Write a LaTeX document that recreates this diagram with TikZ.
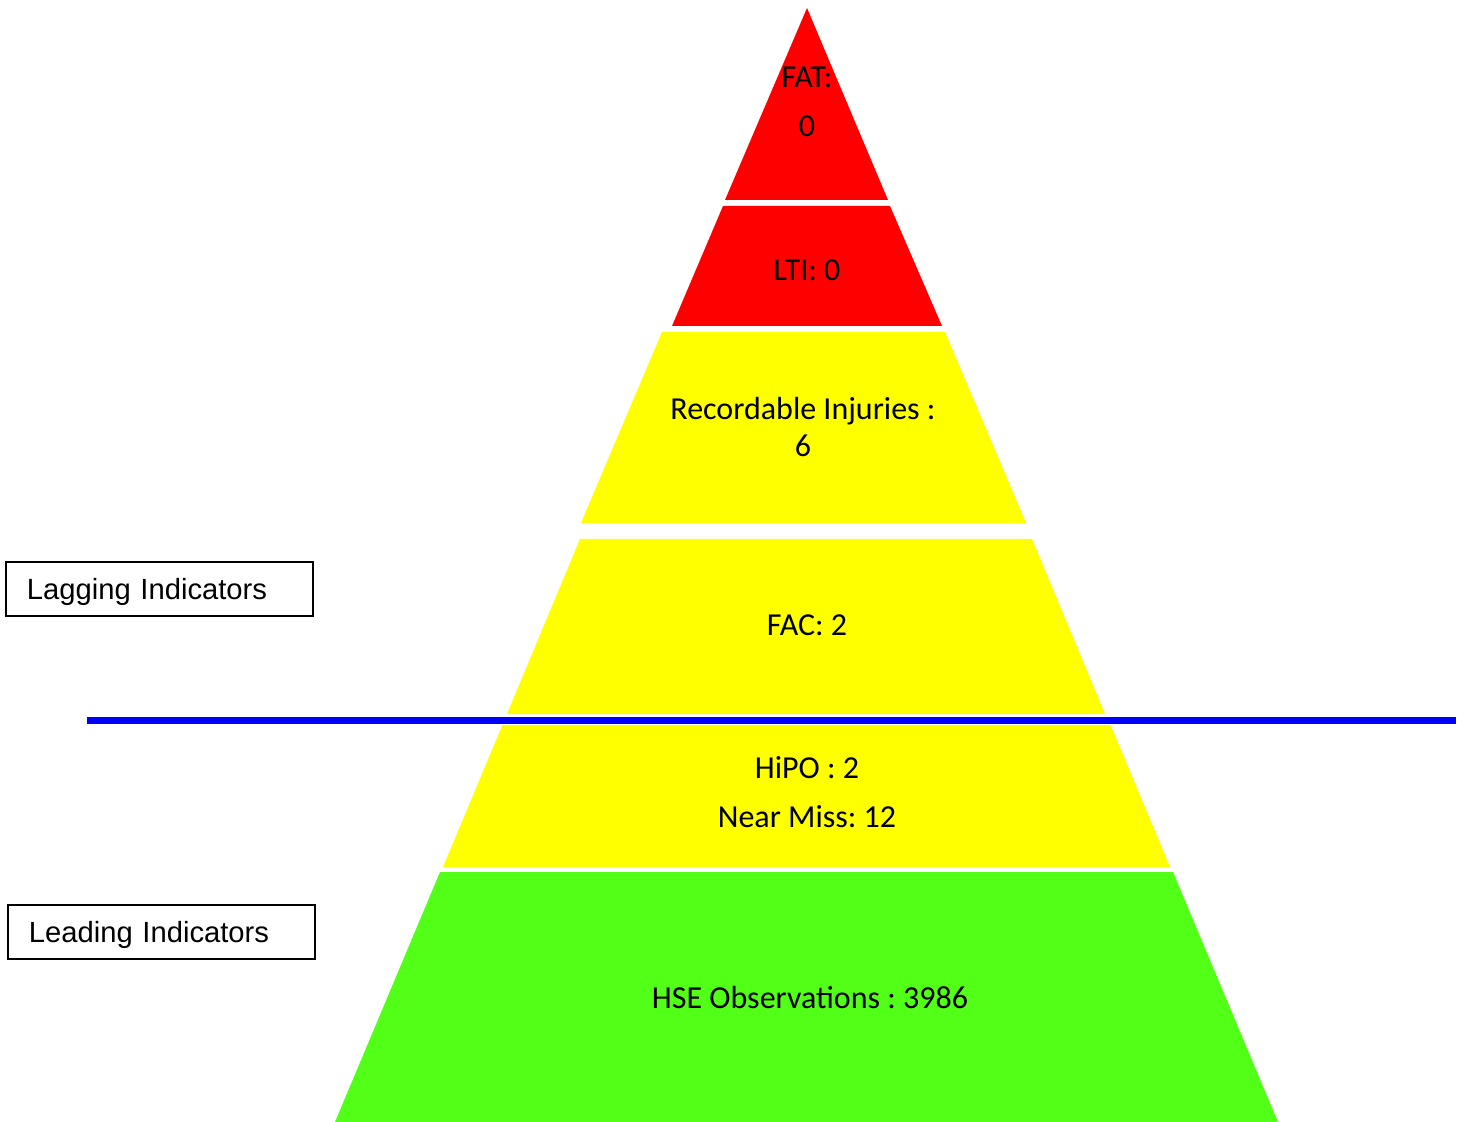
\documentclass[tikz,border=0pt]{standalone}
\usepackage{fontspec}
\setmainfont{Carlito}
\newfontfamily\boxfont{Liberation Sans}
\frenchspacing
\definecolor{topred}{RGB}{255,0,0}
\definecolor{midyellow}{RGB}{255,255,0}
\definecolor{hsegreen}{RGB}{82,255,22}
% one slab of the pyramid: colour, top y, top left/right x, bottom y, bottom left/right x
\newcommand\slab[7]{\fill[#1] (#3,#2) -- (#4,#2) -- (#7,#5) -- (#6,#5) -- cycle;}
\begin{document}
\begin{tikzpicture}[x=0.01cm,y=-0.01cm,
    layer/.style={font=\fontsize{9.1}{10.4}\selectfont, align=center, inner sep=0pt},
    indicator/.style={draw, line width=0.6pt, font=\boxfont\fontsize{8.3}{10}\selectfont, text width=2.65cm, align=left, inner xsep=0.21cm, inner ysep=0pt, text height=8pt, text depth=1.8pt, minimum height=0.54cm}]
  \useasboundingbox (0,0) rectangle (1467,1122);
  \slab{topred}{8}{807}{807}{200}{725}{888}
  \slab{topred}{206}{723}{890}{326}{672}{942}
  \slab{midyellow}{332}{662}{945}{523}{581}{1026}
  \slab{midyellow}{539}{580}{1032}{714}{507}{1105}
  \slab{midyellow}{719}{505}{1108}{867}{443}{1170}
  \slab{hsegreen}{872}{440}{1173}{1122}{335}{1278}
  \node[layer] (fat) at (807,102) {FAT:\\[3.6pt]0};
  \node[layer] (lti) at (807,270) {LTI: 0};
  \node[layer] (rec) at (803,427) {Recordable Injuries :\\6};
  \node[layer] (fac) at (807,625) {FAC: 2};
  \node[layer] (hipo) at (807,792) {HiPO : 2\\[3.6pt]Near Miss: 12};
  \node[layer] (hse) at (810,998) {HSE Observations : 3986};
  \coordinate (split west) at (87,720.5);
  \coordinate (split east) at (1456,720.5);
  \draw[white, line width=2.6pt] (split west) -- (split east);
  \draw[blue, line width=2pt] (split west) -- (split east);
  \node[indicator] (lagging) at (159.5,589) {Lagging Indicators};
  \node[indicator] (leading) at (161.5,932) {Leading Indicators};
\end{tikzpicture}
\end{document}
